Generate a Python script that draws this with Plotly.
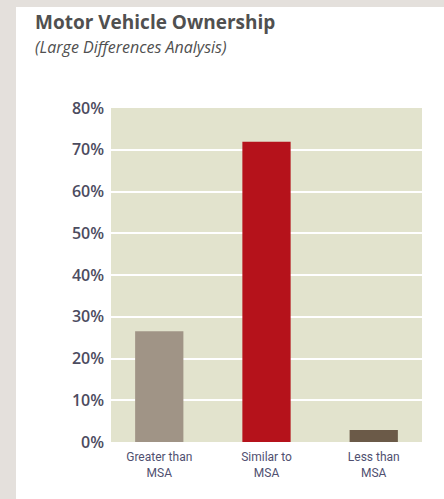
import plotly.graph_objects as go

categories = ["Greater than<br>MSA", "Similar to<br>MSA", "Less than<br>MSA"]
values = [26.5, 71.9, 2.9]
bar_colors = ["#a09486", "#b5121b", "#6b5a48"]
tick_vals = [0, 10, 20, 30, 40, 50, 60, 70, 80]
tick_text = ["0%", "10%", "20%", "30%", "40%", "50%", "60%", "70%", "80%"]
title_text = "Motor Vehicle Ownership"
subtitle_text = "(Large Differences Analysis)"

W, H = 444, 499
ML, MR, MT, MB = 111, 22, 108, 57
PW, PH = W - ML - MR, H - MT - MB

def px_x(px):
    return (px - ML) / PW

def px_y(py):
    return (H - MB - py) / PH

fig = go.Figure()
fig.add_trace(go.Bar(
    x=list(range(len(categories))),
    y=values,
    marker=dict(color=bar_colors, line=dict(width=0)),
    width=0.45,
    hoverinfo="skip",
))

fig.update_layout(
    width=W, height=H,
    margin=dict(l=ML, r=MR, t=MT, b=MB, pad=0),
    paper_bgcolor="white",
    plot_bgcolor="#e2e3cd",
    showlegend=False,
    font=dict(family="Open Sans, sans-serif", color="#4a4a5c"),
    xaxis=dict(
        range=[-0.45, 2.45],
        tickvals=list(range(len(categories))),
        ticktext=categories,
        showgrid=False, zeroline=False, showline=False, ticks="",
        ticklabelstandoff=6,
        tickfont=dict(family="Liberation Sans Narrow, Arial Narrow, Roboto, sans-serif", size=12, color="#505070"),
    ),
    yaxis=dict(
        range=[0, 80],
        tickvals=tick_vals,
        ticktext=tick_text,
        showgrid=True, gridcolor="white", gridwidth=2,
        zeroline=False, showline=False, ticks="",
        ticklabelstandoff=6,
        tickfont=dict(family="Open Sans, sans-serif", size=16, color="#4c4c60", weight=600),
    ),
    shapes=[
        dict(type="rect", xref="paper", yref="paper", layer="above",
             x0=px_x(0), x1=px_x(16), y0=px_y(H), y1=px_y(0),
             fillcolor="#e4e0dc", line=dict(width=0)),
        dict(type="rect", xref="paper", yref="paper", layer="above",
             x0=px_x(0), x1=px_x(W), y0=px_y(7), y1=px_y(0),
             fillcolor="#e4e0dc", line=dict(width=0)),
    ],
    annotations=[
        dict(text="<b>" + title_text + "</b>", xref="paper", yref="paper",
             x=px_x(33), y=px_y(22), xanchor="left", yanchor="middle",
             showarrow=False, font=dict(family="Open Sans, sans-serif", size=19, color="#505050")),
        dict(text="<i>" + subtitle_text + "</i>", xref="paper", yref="paper",
             x=px_x(33), y=px_y(47), xanchor="left", yanchor="middle",
             showarrow=False, font=dict(family="Open Sans, sans-serif", size=16, color="#505050")),
    ],
)

fig.write_html("out.html")
